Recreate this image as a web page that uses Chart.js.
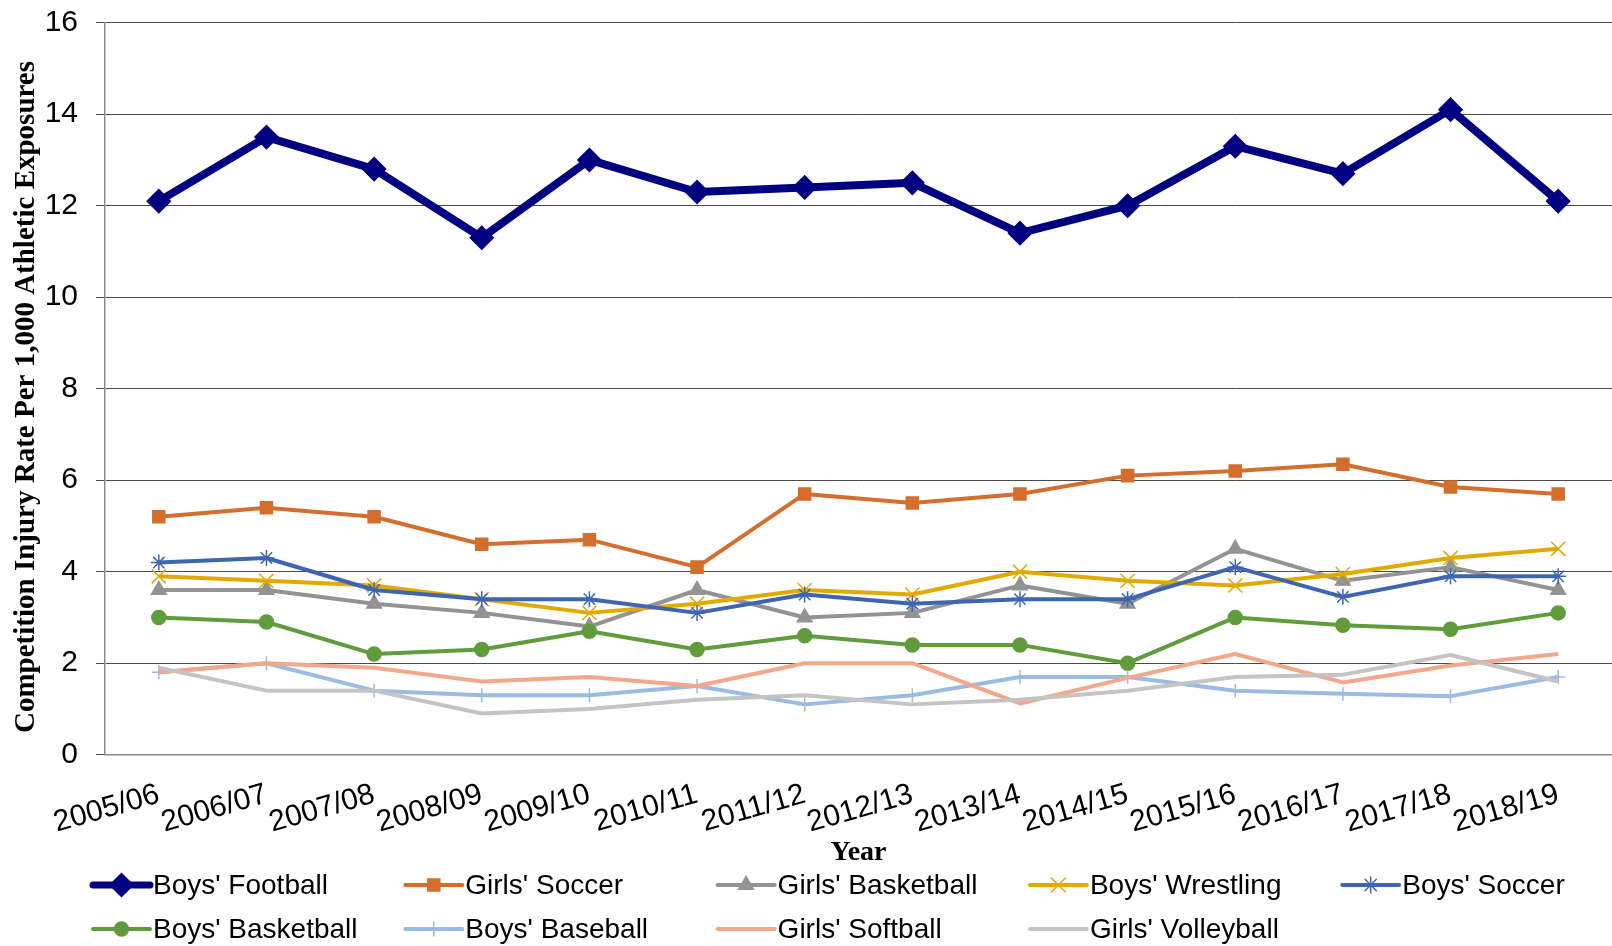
<!DOCTYPE html>
<html>
<head>
<meta charset="utf-8">
<title>Competition Injury Rate</title>
<script src="https://cdn.jsdelivr.net/npm/chart.js@4/dist/chart.umd.min.js"></script>
<style>
  html, body { margin: 0; padding: 0; background: #fff; overflow: hidden; }
  #wrap { width: 1612px; height: 946px; }
  #myChart { display: block; }
</style>
</head>
<body>
<div id="wrap"><canvas id="myChart" width="1612" height="946"></canvas></div>
<script>
// school years on the x axis
var years = ['2005/06', '2006/07', '2007/08', '2008/09', '2009/10', '2010/11', '2011/12',
             '2012/13', '2013/14', '2014/15', '2015/16', '2016/17', '2017/18', '2018/19'];

// injury rate per 1,000 athletic exposures
var boysFootball    = [12.1, 13.5, 12.8, 11.3, 13.0, 12.3, 12.4, 12.5, 11.4, 12.0, 13.3, 12.7, 14.1, 12.1];
var girlsSoccer     = [5.2, 5.4, 5.2, 4.6, 4.7, 4.1, 5.7, 5.5, 5.7, 6.1, 6.2, 6.35, 5.85, 5.7];
var girlsBasketball = [3.6, 3.6, 3.3, 3.1, 2.8, 3.6, 3.0, 3.1, 3.7, 3.3, 4.5, 3.8, 4.1, 3.6];
var boysWrestling   = [3.9, 3.8, 3.7, 3.4, 3.1, 3.3, 3.6, 3.5, 4.0, 3.8, 3.7, 3.95, 4.3, 4.5];
var boysSoccer      = [4.2, 4.3, 3.6, 3.4, 3.4, 3.1, 3.5, 3.3, 3.4, 3.4, 4.1, 3.45, 3.9, 3.9];
var boysBasketball  = [3.0, 2.9, 2.2, 2.3, 2.7, 2.3, 2.6, 2.4, 2.4, 2.0, 3.0, 2.83, 2.74, 3.1];
var boysBaseball    = [1.8, 2.0, 1.4, 1.3, 1.3, 1.5, 1.1, 1.3, 1.7, 1.7, 1.4, 1.33, 1.28, 1.7];
var girlsSoftball   = [1.8, 2.0, 1.9, 1.6, 1.7, 1.5, 2.0, 2.0, 1.12, 1.68, 2.2, 1.58, 1.95, 2.2];
var girlsVolleyball = [1.9, 1.4, 1.4, 0.9, 1.0, 1.2, 1.3, 1.1, 1.2, 1.4, 1.7, 1.75, 2.18, 1.6];

var yTicks = [0, 2, 4, 6, 8, 10, 12, 14, 16];

var sans = '"Liberation Sans", Arial, sans-serif';
var serif = '"Liberation Serif", "Times New Roman", serif';

function series(label, data, color, style, radius, width) {
    return {
        label: label,
        data: data,
        borderColor: color,
        backgroundColor: color,
        borderWidth: width,
        pointStyle: style,
        pointRadius: radius,
        pointHoverRadius: radius,
        pointBackgroundColor: color,
        pointBorderColor: color,
        pointBorderWidth: 1.5,
        borderJoinStyle: 'round',
        tension: 0,
        fill: false
    };
}

var datasets = [
    series("Boys' Football", boysFootball, '#000080', 'rectRot', 11.5, 8),
    series("Girls' Soccer", girlsSoccer, '#D46E2D', 'rect', 8.5, 4),
    series("Girls' Basketball", girlsBasketball, '#939393', 'triangle', 8.5, 4),
    series("Boys' Wrestling", boysWrestling, '#E2AA00', 'crossRot', 10, 4),
    series("Boys' Soccer", boysSoccer, '#3E66B0', 'star', 8, 4),
    series("Boys' Basketball", boysBasketball, '#609B3C', 'circle', 7, 4),
    series("Boys' Baseball", boysBaseball, '#9BBBE2', 'cross', 7, 4),
    series("Girls' Softball", girlsSoftball, '#F3A88B', 'circle', 0, 4),
    series("Girls' Volleyball", girlsVolleyball, '#C4C4C4', 'circle', 0, 4)
];
// later series drawn on top, like the original
datasets.forEach(function(ds, i) { ds.order = -i; });

var yTitle = 'Competition Injury Rate Per 1,000 Athletic Exposures';

// y title sits a bit below the axis middle in the original, so draw it by hand
var yTitlePlugin = {
    id: 'yTitlePlugin',
    afterDraw: function(chart) {
        var ctx = chart.ctx;
        ctx.save();
        ctx.translate(27, 397);
        ctx.rotate(-Math.PI / 2);
        ctx.font = 'bold 29px ' + serif;
        ctx.fillStyle = '#000';
        ctx.textAlign = 'center';
        ctx.textBaseline = 'middle';
        ctx.fillText(yTitle, 0, 0);
        ctx.restore();
    }
};

// legend in fixed columns, second row left aligned under the first
var gridLegend = {
    id: 'gridLegend',
    afterDraw: function(chart) {
        var ctx = chart.ctx;
        ctx.save();
        ctx.font = '28px ' + sans;
        ctx.textBaseline = 'middle';
        ctx.textAlign = 'left';
        chart.data.datasets.forEach(function(ds, i) {
            var x = 93 + (i % 5) * 312.3;
            var y = 885 + Math.floor(i / 5) * 44;
            ctx.strokeStyle = ds.borderColor;
            ctx.lineWidth = Math.min(ds.borderWidth, 7);
            ctx.lineCap = 'round';
            ctx.beginPath();
            ctx.moveTo(x, y);
            ctx.lineTo(x + 57, y);
            ctx.stroke();
            if (ds.pointRadius > 0 && Chart.helpers && Chart.helpers.drawPoint) {
                ctx.fillStyle = ds.pointBackgroundColor;
                ctx.strokeStyle = ds.pointBorderColor;
                ctx.lineWidth = ds.pointBorderWidth;
                Chart.helpers.drawPoint(ctx, {
                    pointStyle: ds.pointStyle,
                    radius: ds.pointRadius,
                    rotation: 0,
                    borderWidth: ds.pointBorderWidth
                }, x + 28.5, y);
            }
            ctx.fillStyle = '#000';
            ctx.fillText(ds.label, x + 60, y + 1);
        });
        ctx.restore();
    }
};

var ctx = document.getElementById('myChart');

var chart = new Chart(ctx, {
    type: 'line',
    data: {
        labels: years,
        datasets: datasets
    },
    options: {
        responsive: false,
        animation: false,
        events: [],
        layout: {
            autoPadding: false,
            padding: { top: 22.7, right: 0, bottom: 76, left: 0 }
        },
        plugins: {
            legend: { display: false },
            tooltip: { enabled: false }
        },
        scales: {
            x: {
                offset: true,
                grid: { display: false, drawTicks: false },
                border: { display: true, color: '#8a8a8a', width: 1.5 },
                ticks: {
                    color: '#000',
                    font: { family: sans, size: 30 },
                    minRotation: 16,
                    maxRotation: 16,
                    autoSkip: false,
                    padding: 22
                },
                title: {
                    display: true,
                    text: 'Year',
                    color: '#000',
                    font: { family: serif, size: 28, weight: 'bold' },
                    padding: { top: 0, bottom: 0 }
                },
                afterFit: function(scale) {
                    scale.height = 115.3;
                    scale.paddingLeft = 0;
                    scale.paddingRight = 0;
                }
            },
            y: {
                min: 0,
                max: 16,
                afterBuildTicks: function(scale) {
                    scale.ticks = yTicks.map(function(v) { return { value: v }; });
                },
                grid: { color: '#4a4a4a', lineWidth: 1, tickLength: 9 },
                border: { display: true, color: '#8a8a8a', width: 1.5 },
                ticks: {
                    color: '#000',
                    font: { family: sans, size: 30 },
                    padding: 18
                },
                title: { display: false },
                afterFit: function(scale) {
                    scale.width = 105;
                    scale.paddingTop = 0;
                    scale.paddingBottom = 0;
                }
            }
        }
    },
    plugins: [gridLegend, yTitlePlugin]
});
</script>
</body>
</html>
